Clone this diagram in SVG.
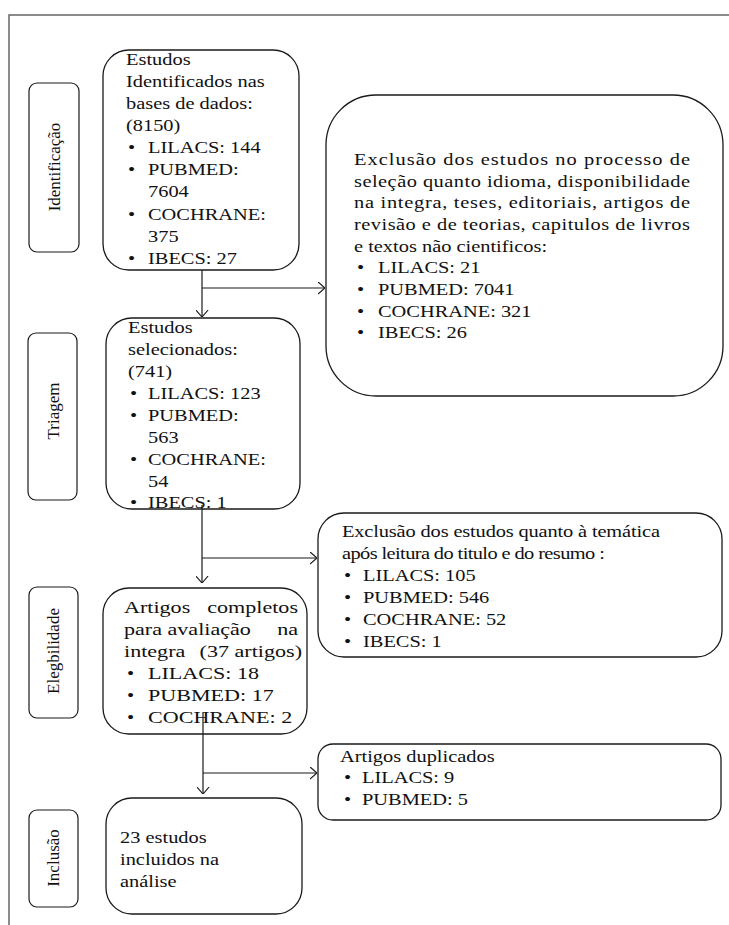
<svg xmlns="http://www.w3.org/2000/svg" width="729" height="925" viewBox="0 0 729 925">
<style>
.t{font-family:"Liberation Serif","Times New Roman",serif;font-size:17px;fill:#111}
.box{fill:none;stroke:#1a1a1a;stroke-width:1.3}
.lbl{fill:none;stroke:#1a1a1a;stroke-width:1.2}
.c{fill:none;stroke:#1a1a1a;stroke-width:1.2}
</style>
<defs>
<marker id="ah" viewBox="0 0 8 14" markerWidth="7" markerHeight="13" refX="8" refY="7" orient="auto" markerUnits="userSpaceOnUse">
<path d="M0,0 L8,7 L0,14" fill="none" stroke="#1a1a1a" stroke-width="1.3"/>
</marker>
</defs>
<rect width="729" height="925" fill="#fff"/>
<path d="M9,925 V15 H729" fill="none" stroke="#666" stroke-width="1.5"/>

<g id="lbl-identificacao">
<rect class="lbl" x="29" y="83" width="50" height="169" rx="8"/>
<text class="t" text-anchor="middle" transform="translate(60,167) rotate(-90)">Identificação</text>
</g>
<g id="lbl-triagem">
<rect class="lbl" x="28" y="333" width="49" height="167" rx="8"/>
<text class="t" text-anchor="middle" transform="translate(59,411) rotate(-90)">Triagem</text>
</g>
<g id="lbl-elegibilidade">
<rect class="lbl" x="29" y="587" width="49" height="131" rx="8"/>
<text class="t" text-anchor="middle" transform="translate(59,651) rotate(-90)">Elegbilidade</text>
</g>
<g id="lbl-inclusao">
<rect class="lbl" x="29" y="810" width="49" height="97" rx="8"/>
<text class="t" text-anchor="middle" transform="translate(59,858) rotate(-90)">Inclusão</text>
</g>

<g id="connectors">
<path class="c" d="M202,270 V317" marker-end="url(#ah)"/>
<path class="c" d="M202,288 H325" marker-end="url(#ah)"/>
<path class="c" d="M202,505 V583" marker-end="url(#ah)"/>
<path class="c" d="M202,558 H317" marker-end="url(#ah)"/>
<path class="c" d="M203,712 V794" marker-end="url(#ah)"/>
<path class="c" d="M203,773 H317" marker-end="url(#ah)"/>
</g>

<g id="identificados">
<rect class="box" x="103" y="50" width="196" height="220" rx="26"/>
<text class="t" transform="translate(126,65) scale(1.2,1)">Estudos</text>
<text class="t" transform="translate(126,87) scale(1.2,1)">Identificados nas</text>
<text class="t" transform="translate(126,109) scale(1.2,1)">bases de dados:</text>
<text class="t" transform="translate(126,131) scale(1.2,1)">(8150)</text>
<text class="t" transform="translate(128,153) scale(1.2,1)">•</text>
<text class="t" transform="translate(148,153) scale(1.2,1)">LILACS: 144</text>
<text class="t" transform="translate(128,175) scale(1.2,1)">•</text>
<text class="t" transform="translate(148,175) scale(1.2,1)">PUBMED:</text>
<text class="t" transform="translate(148,197) scale(1.2,1)">7604</text>
<text class="t" transform="translate(128,220) scale(1.2,1)">•</text>
<text class="t" transform="translate(148,220) scale(1.2,1)">COCHRANE:</text>
<text class="t" transform="translate(148,242) scale(1.2,1)">375</text>
<text class="t" transform="translate(128,264) scale(1.2,1)">•</text>
<text class="t" transform="translate(148,264) scale(1.2,1)">IBECS: 27</text>
</g>

<g id="exclusao1">
<rect class="box" x="326" y="95" width="397" height="301" rx="50"/>
<text class="t" transform="translate(354,165) scale(1.2,1)" textLength="280" lengthAdjust="spacing">Exclusão dos estudos no processo de</text>
<text class="t" transform="translate(354,187) scale(1.2,1)" textLength="280" lengthAdjust="spacing">seleção quanto idioma, disponibilidade</text>
<text class="t" transform="translate(354,208) scale(1.2,1)" textLength="280" lengthAdjust="spacing">na integra, teses, editoriais, artigos de</text>
<text class="t" transform="translate(354,230) scale(1.2,1)" textLength="280" lengthAdjust="spacing">revisão e de teorias, capitulos de livros</text>
<text class="t" transform="translate(354,252) scale(1.2,1)">e textos não cientificos:</text>
<text class="t" transform="translate(357,273) scale(1.2,1)">•</text>
<text class="t" transform="translate(378,273) scale(1.2,1)">LILACS: 21</text>
<text class="t" transform="translate(357,295) scale(1.2,1)">•</text>
<text class="t" transform="translate(378,295) scale(1.2,1)">PUBMED: 7041</text>
<text class="t" transform="translate(357,317) scale(1.2,1)">•</text>
<text class="t" transform="translate(378,317) scale(1.2,1)">COCHRANE: 321</text>
<text class="t" transform="translate(357,338) scale(1.2,1)">•</text>
<text class="t" transform="translate(378,338) scale(1.2,1)">IBECS: 26</text>
</g>

<g id="selecionados">
<rect class="box" x="106" y="318" width="194" height="191" rx="26"/>
<text class="t" transform="translate(128,333) scale(1.2,1)">Estudos</text>
<text class="t" transform="translate(128,355) scale(1.2,1)">selecionados:</text>
<text class="t" transform="translate(128,377) scale(1.2,1)">(741)</text>
<text class="t" transform="translate(130,399) scale(1.2,1)">•</text>
<text class="t" transform="translate(148,399) scale(1.2,1)">LILACS: 123</text>
<text class="t" transform="translate(130,421) scale(1.2,1)">•</text>
<text class="t" transform="translate(148,421) scale(1.2,1)">PUBMED:</text>
<text class="t" transform="translate(148,443) scale(1.2,1)">563</text>
<text class="t" transform="translate(130,465) scale(1.2,1)">•</text>
<text class="t" transform="translate(148,465) scale(1.2,1)">COCHRANE:</text>
<text class="t" transform="translate(148,487) scale(1.2,1)">54</text>
<text class="t" transform="translate(130,508) scale(1.2,1)">•</text>
<text class="t" transform="translate(148,508) scale(1.2,1)">IBECS: 1</text>
</g>

<g id="exclusao2">
<rect class="box" x="318" y="513" width="404" height="144" rx="26"/>
<text class="t" transform="translate(342,537) scale(1.2,1)" textLength="265" lengthAdjust="spacing">Exclusão dos estudos quanto à temática</text>
<text class="t" transform="translate(342,559) scale(1.2,1)" textLength="219" lengthAdjust="spacing">após leitura do titulo e do resumo :</text>
<text class="t" transform="translate(344,581) scale(1.2,1)">•</text>
<text class="t" transform="translate(363,581) scale(1.2,1)">LILACS: 105</text>
<text class="t" transform="translate(344,603) scale(1.2,1)">•</text>
<text class="t" transform="translate(363,603) scale(1.2,1)">PUBMED: 546</text>
<text class="t" transform="translate(344,625) scale(1.2,1)">•</text>
<text class="t" transform="translate(363,625) scale(1.2,1)">COCHRANE: 52</text>
<text class="t" transform="translate(344,647) scale(1.2,1)">•</text>
<text class="t" transform="translate(363,647) scale(1.2,1)">IBECS: 1</text>
</g>

<g id="completos">
<rect class="box" x="103" y="588" width="204" height="146" rx="26"/>
<text class="t" transform="translate(124,613) scale(1.3,1)">Artigos</text>
<text class="t" text-anchor="end" transform="translate(298,613) scale(1.3,1)">completos</text>
<text class="t" transform="translate(124,635) scale(1.3,1)">para avaliação</text>
<text class="t" text-anchor="end" transform="translate(298,635) scale(1.3,1)">na</text>
<text class="t" transform="translate(124,657) scale(1.3,1)">integra</text>
<text class="t" text-anchor="end" transform="translate(302,657) scale(1.3,1)">(37 artigos)</text>
<text class="t" transform="translate(127,679) scale(1.2,1)">•</text>
<text class="t" transform="translate(148,679) scale(1.3,1)">LILACS: 18</text>
<text class="t" transform="translate(127,701) scale(1.2,1)">•</text>
<text class="t" transform="translate(148,701) scale(1.3,1)">PUBMED: 17</text>
<text class="t" transform="translate(127,723) scale(1.2,1)">•</text>
<text class="t" transform="translate(148,723) scale(1.3,1)">COCHRANE: 2</text>
</g>

<g id="duplicados">
<rect class="box" x="318" y="744" width="403" height="76" rx="15"/>
<text class="t" transform="translate(340,762) scale(1.2,1)">Artigos duplicados</text>
<text class="t" transform="translate(344,783) scale(1.2,1)">•</text>
<text class="t" transform="translate(362,783) scale(1.2,1)">LILACS: 9</text>
<text class="t" transform="translate(344,805) scale(1.2,1)">•</text>
<text class="t" transform="translate(362,805) scale(1.2,1)">PUBMED: 5</text>
</g>

<g id="incluidos">
<rect class="box" x="106" y="798" width="196" height="116" rx="26"/>
<text class="t" transform="translate(120,843) scale(1.2,1)">23 estudos</text>
<text class="t" transform="translate(120,865) scale(1.2,1)">incluidos na</text>
<text class="t" transform="translate(120,887) scale(1.2,1)">análise</text>
</g>
</svg>
